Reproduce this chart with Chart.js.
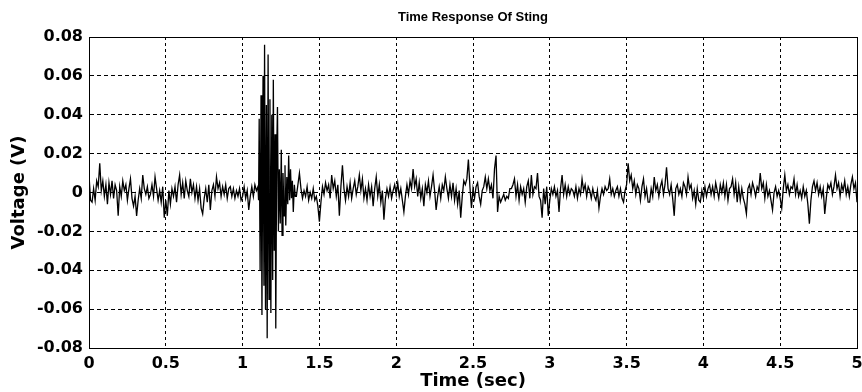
<!DOCTYPE html>
<html>
<head>
<meta charset="utf-8">
<title>Time Response Of Sting</title>
<script src="https://cdn.jsdelivr.net/npm/chart.js@4.4.1/dist/chart.umd.min.js"></script>
<style>
    html, body { margin: 0; padding: 0; background: #fff; }
    #wrap { position: relative; width: 862px; height: 392px; }
</style>
</head>
<body>
<div id="wrap"><canvas id="stingChart"></canvas></div>
<script>
var sampleStep = 0.01;

var preBurstStart = 0;   // 0.00 .. 1.10 s
var preBurstVolts = [
    0.009, -0.004, -0.005, 0.002, -0.004, 0.006, 0.003, 0.015, 0.001, 0.006,
    -0.002, 0.004, -0.006, 0.005, -0.001, 0.006, -0.003, 0.004, 0.001, -0.012,
    0.003, -0.002, 0.006, 0.001, 0.004, -0.004, 0.002, 0.007, -0.003, -0.007,
    -0.002, -0.012, -0.004, 0.002, -0.003, 0.009, 0.002, -0.001, 0.003, -0.003,
    -0.001, 0.004, -0.002, 0.008, 0.002, -0.004, 0.001, -0.005, 0.003, -0.013,
    -0.004, -0.012, 0.001, -0.006, 0.002, -0.002, 0.003, -0.005, 0.004, 0.009,
    -0.001, 0.005, -0.003, 0.006, 0.001, -0.002, 0.007, 0.000, 0.004, -0.003,
    0.003, -0.004, 0.002, -0.008, -0.011, -0.003, 0.002, -0.005, 0.004, -0.009,
    0.001, 0.004, -0.002, 0.008, 0.002, 0.005, -0.002, 0.003, -0.001, 0.004,
    -0.003, 0.002, 0.003, -0.002, 0.002, -0.003, 0.001, -0.002, 0.002, -0.004,
    -0.002, 0.003, -0.003, 0.001, -0.009, -0.002, 0.003, -0.002, 0.004, 0.001,
    0.003
];

// the impact burst, sampled finer
var burstTimes = [
    1.104, 1.108, 1.114, 1.120, 1.126, 1.133, 1.139, 1.143, 1.149, 1.155,
    1.160, 1.166, 1.172, 1.178, 1.184, 1.190, 1.196, 1.200, 1.206, 1.211,
    1.216, 1.222, 1.227, 1.233, 1.239, 1.245, 1.252, 1.257, 1.263, 1.270,
    1.276, 1.281, 1.288, 1.294, 1.300, 1.306, 1.312, 1.318, 1.324, 1.330,
    1.337, 1.343
];
var burstVolts = [
    -0.004, 0.038, -0.040, 0.050, -0.063, 0.060, -0.048, 0.076, -0.060, 0.045,
    -0.075, 0.071, -0.055, 0.048, -0.062, 0.040, -0.045, 0.058, -0.030, 0.030,
    -0.070, 0.020, 0.044, -0.020, 0.012, -0.016, 0.022, -0.022, 0.010, -0.012,
    0.014, -0.017, 0.008, -0.006, 0.019, -0.004, 0.012, -0.003, 0.006, -0.010,
    0.004, -0.002
];

var postBurstStart = 1.35;   // 1.35 .. 5.00 s
var postBurstVolts = [
    -0.002, 0.004, 0.010, 0.002, -0.003, 0.001, -0.002, 0.003, -0.004, 0.000,
    -0.003, 0.002, -0.004, -0.002, -0.007, -0.015, -0.005, 0.003, -0.001, 0.005,
    0.001, 0.004, -0.003, 0.009, 0.002, 0.006, -0.002, 0.004, -0.012, 0.003,
    0.014, 0.002, -0.004, 0.003, -0.002, 0.005, -0.003, 0.002, 0.006, -0.001,
    0.003, 0.009, 0.001, 0.007, -0.003, 0.002, -0.004, 0.004, -0.002, 0.003,
    -0.007, 0.002, 0.008, -0.002, 0.004, -0.005, 0.001, -0.014, -0.003, 0.002,
    -0.002, 0.003, -0.003, 0.001, 0.004, -0.001, 0.005, -0.002, 0.002, -0.004,
    -0.010, -0.002, 0.004, -0.001, 0.006, 0.002, 0.012, 0.003, 0.007, -0.002,
    0.005, -0.003, 0.002, -0.007, 0.004, 0.000, 0.006, -0.002, 0.003, 0.009,
    0.001, -0.009, -0.002, 0.003, -0.003, 0.004, 0.001, 0.008, 0.002, -0.003,
    0.004, -0.002, 0.005, -0.004, 0.002, -0.006, 0.001, -0.013, -0.002, 0.006,
    0.004, 0.007, 0.017, 0.003, -0.008, 0.002, -0.003, 0.003, 0.005, -0.002,
    -0.006, 0.001, 0.003, 0.008, 0.002, 0.007, 0.001, 0.004, -0.003, 0.012,
    0.019, -0.010, -0.002, -0.005, -0.003, -0.001, -0.004, -0.002, -0.003, 0.002,
    0.002, 0.004, 0.007, -0.002, 0.004, -0.004, 0.003, -0.001, 0.002, -0.005,
    0.003, 0.006, -0.003, 0.009, -0.001, 0.003, 0.002, 0.010, -0.002, -0.004,
    -0.013, 0.002, -0.006, 0.003, -0.012, -0.004, 0.002, -0.001, 0.003, -0.002,
    0.001, -0.010, 0.002, 0.009, -0.001, 0.004, -0.002, 0.003, -0.001, 0.002,
    0.001, -0.002, 0.003, -0.003, 0.002, -0.001, 0.007, 0.001, 0.004, -0.002,
    0.003, 0.001, -0.003, 0.002, -0.002, -0.004, 0.001, -0.008, -0.002, 0.002,
    -0.001, 0.003, 0.001, 0.002, 0.007, -0.001, 0.002, -0.002, 0.001, 0.003,
    -0.002, 0.002, -0.003, -0.005, 0.001, 0.004, 0.015, 0.006, 0.009, 0.002,
    0.006, -0.001, 0.004, 0.002, -0.004, 0.003, 0.007, -0.002, 0.002, -0.005,
    -0.005, 0.002, -0.002, 0.008, 0.001, 0.004, -0.002, 0.003, 0.006, -0.001,
    0.004, 0.013, 0.002, -0.001, 0.004, -0.003, -0.012, 0.002, 0.004, -0.001,
    0.002, -0.002, 0.005, 0.003, -0.001, 0.008, 0.002, 0.004, -0.003, 0.001,
    -0.006, 0.002, -0.004, -0.005, 0.001, -0.003, 0.003, -0.002, 0.002, 0.004,
    -0.001, 0.003, -0.002, 0.005, 0.001, -0.003, 0.004, 0.000, 0.005, -0.002,
    0.004, -0.004, 0.002, 0.003, 0.007, -0.001, 0.005, -0.005, 0.003, -0.004,
    0.002, -0.003, -0.006, -0.011, 0.002, 0.004, -0.001, 0.005, 0.002, -0.002,
    0.003, 0.001, 0.010, 0.002, 0.005, -0.003, 0.004, -0.002, 0.001, -0.004,
    -0.009, 0.000, 0.003, -0.002, 0.001, -0.003, -0.008, 0.002, 0.009, 0.001,
    0.004, -0.001, 0.003, 0.002, 0.007, -0.001, 0.004, -0.002, 0.001, -0.003,
    0.003, -0.002, 0.001, -0.006, -0.016, -0.004, 0.003, 0.006, 0.001, 0.005,
    -0.001, 0.003, -0.002, 0.002, -0.011, -0.003, 0.004, 0.002, 0.005, -0.001,
    0.003, 0.009, 0.002, 0.005, -0.002, 0.004, 0.001, 0.006, -0.001, 0.003,
    -0.002, 0.004, 0.008, 0.002, 0.005, -0.005
];

var timeMin = 0, timeMax = 5, timeStep = 0.5;
var voltMin = -0.08, voltMax = 0.08, voltStep = 0.02;

var chartTitle = 'Time Response Of Sting';
var xTitle = 'Time (sec)';
var yTitle = 'Voltage (V)';

function sampled(start, volts) {
    return volts.map(function (v, i) {
        return { x: Math.round((start + i * sampleStep) * 1000) / 1000, y: v };
    });
}

var points = sampled(preBurstStart, preBurstVolts)
    .concat(burstTimes.map(function (t, i) { return { x: t, y: burstVolts[i] }; }))
    .concat(sampled(postBurstStart, postBurstVolts));

// matlab style closed box round the axes
var boxPlugin = {
    id: 'axesBox',
    afterDatasetsDraw: function (chart) {
        var a = chart.chartArea, ctx = chart.ctx;
        ctx.save();
        ctx.strokeStyle = '#000';
        ctx.lineWidth = 1;
        ctx.setLineDash([]);
        ctx.strokeRect(Math.round(a.left) + 0.5, Math.round(a.top) + 0.5,
            Math.round(a.right - a.left), Math.round(a.bottom - a.top));
        ctx.restore();
    }
};

// matlab prints 0, 0.5, 1 ... not 1.0
function plainTick(value) {
    return String(Math.round(value * 100) / 100);
}

var tickFont = { family: 'DejaVu Sans', weight: 'bold', size: 16 };
var labelFont = { family: 'DejaVu Sans', weight: 'bold', size: 18 };

new Chart(document.getElementById('stingChart'), {
    type: 'line',
    data: {
        datasets: [{
            data: points,
            borderColor: '#000',
            borderWidth: 1.3,
            pointRadius: 0,
            tension: 0,
            fill: false
        }]
    },
    options: {
        responsive: true,
        maintainAspectRatio: false,
        animation: false,
        layout: { padding: { left: 0, right: 0, top: 0, bottom: 0 } },
        plugins: {
            legend: { display: false },
            tooltip: { enabled: false },
            title: {
                display: true,
                text: chartTitle,
                color: '#000',
                fullSize: false,
                font: { family: 'Liberation Sans', weight: 'bold', size: 13 },
                padding: { top: 10, bottom: 11.4 }
            }
        },
        scales: {
            x: {
                type: 'linear',
                min: timeMin,
                max: timeMax,
                afterFit: function (s) { s.height = 44; s.paddingRight = 5; },
                ticks: { stepSize: timeStep, color: '#000', font: tickFont, padding: 6, maxRotation: 0, callback: plainTick },
                grid: { color: '#000', lineWidth: 1, drawTicks: false },
                border: { display: true, color: '#000', dash: [3, 3] },
                title: { display: true, text: xTitle, color: '#000', font: labelFont, padding: { top: 0, bottom: 0 } }
            },
            y: {
                type: 'linear',
                min: voltMin,
                max: voltMax,
                afterFit: function (s) { s.width = 89; },
                ticks: { stepSize: voltStep, color: '#000', font: tickFont, padding: 6, callback: plainTick },
                grid: { color: '#000', lineWidth: 1, drawTicks: false },
                border: { display: true, color: '#000', dash: [4, 3] },
                title: { display: true, text: yTitle, color: '#000', font: labelFont, padding: { top: 9, bottom: 0 } }
            }
        }
    },
    plugins: [boxPlugin]
});
</script>
</body>
</html>
